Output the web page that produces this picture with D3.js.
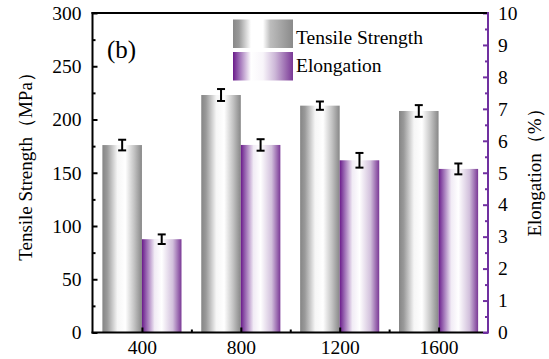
<!DOCTYPE html>
<html><head><meta charset="utf-8">
<script src="https://cdn.jsdelivr.net/npm/d3@7"></script>
<style>body{margin:0;background:#fff}svg{display:block}</style>
</head><body><svg id="c" width="549" height="359"></svg>
<script>
const categories = [400, 800, 1200, 1600];
const tensile = [176, 223, 213, 208];
const tensileErr = [5, 5.6, 3.9, 5.5];
const elongation = [2.92, 5.87, 5.39, 5.12];
const elongErr = [0.15, 0.18, 0.23, 0.17];
const leftTicks = [0, 50, 100, 150, 200, 250, 300];
const rightTicks = [0,1,2,3,4,5,6,7,8,9,10];
const purple = "#7030a0";
const FONT = "Liberation Serif";
const FS = 19.5;

const svg = d3.select("#c").attr("font-family", FONT);
const L = 92.5, R = 488, T = 13, B = 332.5;
const x = d3.scaleLinear().domain([200, 1800]).range([L, R]);
const yL = d3.scaleLinear().domain([0, 300]).range([B, T]);
const yR = d3.scaleLinear().domain([0, 10]).range([B, T]);
const half = 160;

const defs = svg.append("defs");
function grad(id, stops){
  const g = defs.append("linearGradient").attr("id", id).attr("x1","0").attr("x2","1").attr("y1","0").attr("y2","0");
  stops.forEach(s => g.append("stop").attr("offset", s[0]).attr("stop-color", s[1]));
}
grad("gGray", [[0,"#858585"],[0.12,"#9a9a9a"],[0.38,"#f6f6f6"],[0.58,"#ffffff"],[0.8,"#c4c4c4"],[1,"#878787"]]);
grad("gPurp", [[0,"#6a1a8a"],[0.08,"#8a50a6"],[0.32,"#f1ebf5"],[0.5,"#ffffff"],[0.78,"#d2c0dc"],[1,"#7a3896"]]);
grad("lgGray", [[0,"#888"],[0.1,"#9a9a9a"],[0.3,"#ffffff"],[0.5,"#ffffff"],[0.62,"#bdbdbd"],[1,"#8a8a8a"]]);
grad("lgPurp", [[0,"#6a1a8a"],[0.1,"#9a68b3"],[0.3,"#ffffff"],[0.5,"#f8f5fa"],[0.7,"#cdb8d8"],[1,"#7a3896"]]);

// bars
svg.append("g").selectAll("rect").data(categories).join("rect")
  .attr("x", d => x(d - half)).attr("width", d => x(d) - x(d - half))
  .attr("y", (d,i) => yL(tensile[i])).attr("height", (d,i) => B - yL(tensile[i]))
  .attr("fill", "url(#gGray)");
svg.append("g").selectAll("rect").data(categories).join("rect")
  .attr("x", d => x(d)).attr("width", d => x(d + half) - x(d))
  .attr("y", (d,i) => yR(elongation[i])).attr("height", (d,i) => B - yR(elongation[i]))
  .attr("fill", "url(#gPurp)");

// error bars
function errBars(cx, vals, errs, sc){
  const g = svg.append("g").attr("stroke", "#000").attr("stroke-width", 2);
  categories.forEach((c,i) => {
    const xc = cx(c), y1 = sc(vals[i] + errs[i]), y2 = sc(vals[i] - errs[i]);
    g.append("line").attr("x1", xc).attr("x2", xc).attr("y1", y1).attr("y2", y2);
    g.append("line").attr("x1", xc-4).attr("x2", xc+4).attr("y1", y1).attr("y2", y1);
    g.append("line").attr("x1", xc-4).attr("x2", xc+4).attr("y1", y2).attr("y2", y2);
  });
}
errBars(c => (x(c - half) + x(c)) / 2, tensile, tensileErr, yL);
errBars(c => (x(c) + x(c + half)) / 2, elongation, elongErr, yR);

function styleText(sel, size){ sel.attr("font-family", FONT).attr("font-size", size || FS).attr("fill", "#000"); }

// axes
const leftAxis = svg.append("g").attr("transform", `translate(${L},0)`)
  .call(d3.axisLeft(yL).tickValues(leftTicks).tickSizeInner(-5).tickSizeOuter(0).tickPadding(11));
leftAxis.attr("font-family", FONT).attr("font-size", FS);
leftAxis.select(".domain").remove();
leftAxis.selectAll(".tick line").attr("stroke-width", 2);
styleText(leftAxis.selectAll("text"));
svg.append("g").attr("transform", `translate(${L},0)`)
  .call(d3.axisLeft(yL).tickValues(d3.range(25, 300, 50)).tickSize(-3).tickFormat(""))
  .call(g => g.select(".domain").remove()).selectAll("line").attr("stroke-width", 2);

const rightAxis = svg.append("g").attr("transform", `translate(${R},0)`)
  .call(d3.axisRight(yR).tickValues(rightTicks).tickSizeInner(-5).tickSizeOuter(0).tickPadding(10));
rightAxis.attr("font-family", FONT).attr("font-size", FS);
rightAxis.select(".domain").remove();
rightAxis.selectAll(".tick line").attr("stroke", purple).attr("stroke-width", 2);
styleText(rightAxis.selectAll("text"));
svg.append("g").attr("transform", `translate(${R},0)`)
  .call(d3.axisRight(yR).tickValues(d3.range(0.5, 10, 1)).tickSize(-3).tickFormat(""))
  .call(g => g.select(".domain").remove()).selectAll("line").attr("stroke", purple).attr("stroke-width", 2);

const bottomAxis = svg.append("g").attr("transform", `translate(0,${B})`)
  .call(d3.axisBottom(x).tickValues(categories).tickFormat(d3.format("d")).tickSizeInner(-5).tickSizeOuter(0).tickPadding(8));
bottomAxis.attr("font-family", FONT).attr("font-size", FS);
bottomAxis.select(".domain").remove();
bottomAxis.selectAll(".tick line").attr("stroke-width", 2);
styleText(bottomAxis.selectAll("text"));
svg.append("g").attr("transform", `translate(0,${B})`)
  .call(d3.axisBottom(x).tickValues([600, 1000, 1400]).tickSize(-3).tickFormat(""))
  .call(g => g.select(".domain").remove()).selectAll("line").attr("stroke-width", 2);

// frame lines
svg.append("line").attr("x1", L).attr("x2", L).attr("y1", T-1).attr("y2", B+1).attr("stroke", "#000").attr("stroke-width", 2);
svg.append("line").attr("x1", L-1).attr("x2", R).attr("y1", T).attr("y2", T).attr("stroke", "#000").attr("stroke-width", 2);
svg.append("line").attr("x1", L-1).attr("x2", R-5).attr("y1", B).attr("y2", B).attr("stroke", "#000").attr("stroke-width", 2);
svg.append("line").attr("x1", R-5).attr("x2", R).attr("y1", B).attr("y2", B).attr("stroke", purple).attr("stroke-width", 2);
svg.append("line").attr("x1", R).attr("x2", R).attr("y1", T-1).attr("y2", B+1).attr("stroke", purple).attr("stroke-width", 2);

// axis titles
const t1 = svg.append("text").attr("transform", `translate(32,162) rotate(-90)`)
  .attr("text-anchor", "middle").text("Tensile Strength（MPa）");
styleText(t1, 19);
const t2 = svg.append("text").attr("transform", `translate(541,168) rotate(-90)`)
  .attr("text-anchor", "middle").text("Elongation（%）");
styleText(t2, 19);

// panel label
const pl = svg.append("text").attr("x", 107).attr("y", 58).text("(b)");
styleText(pl, 25);

// legend
const legend = [["Tensile Strength", "url(#lgGray)"], ["Elongation", "url(#lgPurp)"]];
legend.forEach((l,i) => {
  svg.append("rect").attr("x", 233).attr("y", 19.5 + i*32.5).attr("width", 60).attr("height", 28.5).attr("fill", l[1]);
  const t = svg.append("text").attr("x", 296).attr("y", 43.5 + i*28.5).text(l[0]);
  styleText(t);
});
</script></body></html>
